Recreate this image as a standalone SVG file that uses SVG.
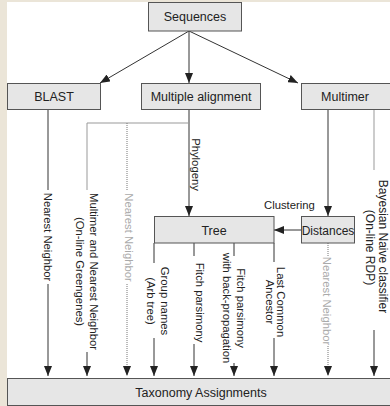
<svg xmlns="http://www.w3.org/2000/svg" width="390" height="406" viewBox="0 0 390 406">
<defs>
<marker id="ah" viewBox="0 0 10 8" refX="10" refY="4" markerWidth="10" markerHeight="8" markerUnits="userSpaceOnUse" orient="auto">
<path d="M0,0 L10,4 L0,8 Z" fill="#222"/>
</marker>
</defs>
<style>
.box{fill:#e6e6e6;stroke:#555;stroke-width:1}
.bl{font-family:"Liberation Sans",Arial,sans-serif;font-size:12.5px;fill:#222;text-anchor:middle}
.vt{font-family:"Liberation Sans",Arial,sans-serif;font-size:11.3px;fill:#222;text-anchor:middle}
.gt{fill:#aaa}
.ln{fill:none;stroke:#333;stroke-width:1}
.lg{fill:none;stroke:#999;stroke-width:1}
.dt{fill:none;stroke:#777;stroke-width:1;stroke-dasharray:1 1}
.ar{marker-end:url(#ah)}
</style>
<rect x="0" y="0" width="390" height="406" fill="#ebe5d8"/>
<rect x="7" y="2" width="383" height="404" fill="#ffffff"/>

<g id="connectors">
<line class="ln ar" x1="189" y1="31" x2="100" y2="83"/>
<line class="ln ar" x1="189" y1="31" x2="189" y2="83"/>
<line class="ln ar" x1="189" y1="31" x2="298" y2="83"/>
<line class="ln" x1="48" y1="109" x2="48" y2="190"/>
<line class="ln ar" x1="48" y1="284" x2="48" y2="376"/>
<line class="ln ar" x1="189" y1="109" x2="189" y2="216"/>
<line class="lg" x1="87" y1="123" x2="189" y2="123"/>
<line class="lg" x1="87" y1="123" x2="87" y2="190"/>
<line class="ln ar" x1="87" y1="352" x2="87" y2="376"/>
<line class="dt" x1="127" y1="123" x2="127" y2="190"/>
<line class="dt ar" x1="127" y1="284" x2="127" y2="376"/>
<line class="ln" x1="154" y1="243" x2="154" y2="263"/>
<line class="ln ar" x1="154" y1="338" x2="154" y2="376"/>
<line class="ln" x1="194" y1="243" x2="194" y2="256"/>
<line class="ln ar" x1="194" y1="344" x2="194" y2="376"/>
<line class="ln" x1="234" y1="243" x2="234" y2="256"/>
<line class="ln ar" x1="234" y1="363" x2="234" y2="376"/>
<line class="ln" x1="274" y1="243" x2="274" y2="262"/>
<line class="ln ar" x1="274" y1="338" x2="274" y2="376"/>
<line class="ln ar" x1="328" y1="109" x2="328" y2="216"/>
<line class="ln ar" x1="301" y1="230" x2="274" y2="230"/>
<line class="dt" x1="328" y1="243" x2="328" y2="256"/>
<line class="dt ar" x1="328" y1="346" x2="328" y2="376"/>
<line class="lg" x1="374" y1="109" x2="374" y2="170"/>
<line class="ln ar" x1="374" y1="330" x2="374" y2="376"/>
</g>

<g id="sequences">
<rect class="box" x="148.5" y="2.5" width="93" height="28.5"/>
<text class="bl" x="195" y="21">Sequences</text>
</g>
<g id="blast">
<rect class="box" x="7.5" y="83.5" width="93" height="26"/>
<text class="bl" x="54" y="101">BLAST</text>
</g>
<g id="multiple-alignment">
<rect class="box" x="141.5" y="83.5" width="119" height="26"/>
<text class="bl" x="201" y="101">Multiple alignment</text>
</g>
<g id="multimer">
<rect class="box" x="301.5" y="83.5" width="92" height="26"/>
<text class="bl" x="345" y="101">Multimer</text>
</g>
<g id="tree">
<rect class="box" x="154.5" y="216.5" width="119.5" height="26.5"/>
<text class="bl" x="214" y="234.5">Tree</text>
</g>
<g id="distances">
<rect class="box" x="301.5" y="216.5" width="53" height="26.5"/>
<text class="bl" x="328" y="234.5" style="font-size:12px">Distances</text>
</g>
<g id="taxonomy">
<rect class="box" x="7.5" y="378.5" width="385" height="27"/>
<text class="bl" x="201" y="396.5">Taxonomy Assignments</text>
</g>

<g id="labels">
<text class="vt" x="264" y="209" style="text-anchor:start">Clustering</text>
<text class="vt" transform="translate(44,237) rotate(90)">Nearest Neighbor</text>
<text class="vt" transform="translate(90,271.5) rotate(90)">Multimer and Nearest Neighbor</text>
<text class="vt" transform="translate(76,271.5) rotate(90)">(On-line Greengenes)</text>
<text class="vt gt" transform="translate(125,237.5) rotate(90)">Nearest Neighbor</text>
<text class="vt" transform="translate(192,164.5) rotate(90)">Phylogeny</text>
<text class="vt" transform="translate(161,301) rotate(90)">Group names</text>
<text class="vt" transform="translate(147,301) rotate(90)">(Arb tree)</text>
<text class="vt" transform="translate(196,302.5) rotate(90)">Fitch parsimony</text>
<text class="vt" transform="translate(237,308) rotate(90)">Fitch parsimony</text>
<text class="vt" transform="translate(223,308) rotate(90)">with back-propagation</text>
<text class="vt" transform="translate(277,302) rotate(90)">Last Common</text>
<text class="vt" transform="translate(266,302) rotate(90)">Ancestor</text>
<text class="vt gt" transform="translate(323,301) rotate(90)">Nearest Neighbor</text>
<text class="vt" style="font-size:12px" transform="translate(379,246.5) rotate(90)">Bayesian Naive classifier</text>
<text class="vt" style="font-size:12px" transform="translate(366,247.5) rotate(90)">(On-line RDP)</text>
</g>
</svg>
